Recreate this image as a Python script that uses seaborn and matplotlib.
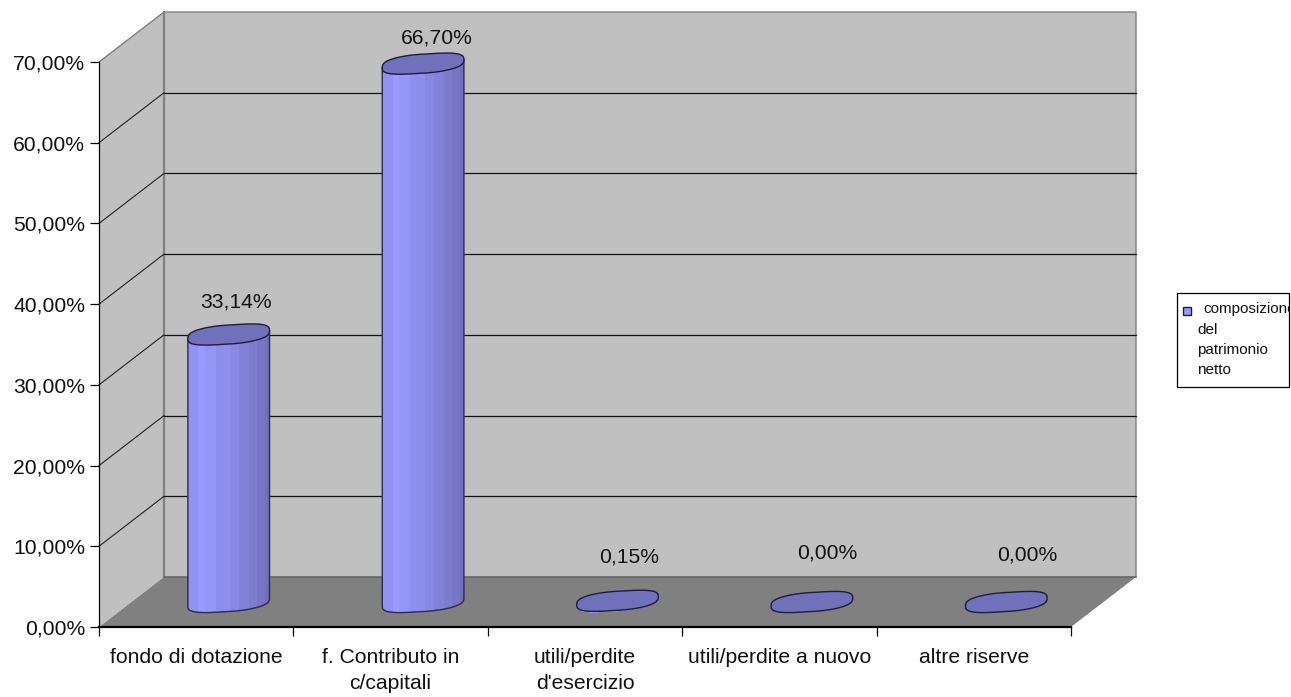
"""
plot.py
---------
Composizione del patrimonio netto, 3D-look cylinder chart.
Run: python3 plot.py
"""

import numpy as np
import pandas as pd
import matplotlib
matplotlib.use('Agg')
import matplotlib.pyplot as plt
from matplotlib.colors import ListedColormap
from matplotlib.patches import Polygon, Rectangle
from matplotlib.transforms import Affine2D
import seaborn as sns

categories = ["fondo di dotazione", "f. Contributo in\nc/capitali",
              "utili/perdite\nd'esercizio", "utili/perdite a nuovo",
              "altre riserve"]
values = [33.14, 66.70, 0.15, 0.00, 0.00]
y_ticks = [0, 10, 20, 30, 40, 50, 60, 70]
y_tick_labels = ["0,00%", "10,00%", "20,00%", "30,00%",
                 "40,00%", "50,00%", "60,00%", "70,00%"]
legend_lines = ["composizione", "del", "patrimonio", "netto"]

# Style
W, H = 1291, 697
FONT = 'Liberation Sans'
FS = 15.2
WALL = '#C0C0C0'
FLOOR = '#808080'
TOP_COLOR = '#7070BB'
BAR_COLOR = '#9999FF'
EDGE = '#2a2a55'
STRIP_COLORS = ['#9292F2', '#9999FF', '#9595F8', '#8E8EEE', '#8888E4',
                '#8282D9', '#7C7CCF', '#7676C5', '#7070BB']
STRIP_EDGES = [0, 0.13, 0.21, 0.34, 0.52, 0.63, 0.75, 0.85, 0.95, 1]
LABEL_OFFSETS = [(7, 33), (14, 26), (12, 44), (15, 49), (21, 47)]

sns.set_theme(style='white')
plt.rcParams['font.family'] = [FONT, 'DejaVu Sans']

fig = plt.figure(figsize=(W / 100, H / 100), dpi=100)
ax = fig.add_axes([99 / W, 1 - 627 / H, 972 / W, 565 / H])
ax.patch.set_visible(False)

df = pd.DataFrame({'category': categories, 'value': values})
sns.barplot(data=df, x='category', y='value', color=BAR_COLOR, saturation=1,
            width=0.42, linewidth=0, ax=ax, zorder=3)

# chart depth, in data units
DX = 65 / (972 / 5)
DY = 50 / (565 / 70)
x0, x1 = -0.5, 4.5
ax.set_xlim(x0, x1)
ax.set_ylim(0, 70)

# walls and floor
ax.fill([x0, x0 + DX, x0 + DX, x0], [0, DY, 70 + DY, 70], color=WALL,
        lw=0, clip_on=False, zorder=0)
ax.fill([x0 + DX, x1 + DX, x1 + DX, x0 + DX], [DY, DY, 70 + DY, 70 + DY],
        color=WALL, lw=0, clip_on=False, zorder=0)
ax.plot([x0, x0 + DX, x1 + DX, x1 + DX], [70, 70 + DY, 70 + DY, DY],
        color=FLOOR, lw=1.0, clip_on=False, zorder=1)
ax.plot([x0 + DX, x0 + DX], [DY, 70 + DY], color=FLOOR, lw=1.6,
        clip_on=False, zorder=1)
for t in y_ticks[1:-1]:
    ax.plot([x0, x0 + DX], [t, t + DY], color='#222222', lw=0.8,
            clip_on=False, zorder=1)
    ax.plot([x0 + DX, x1 + DX], [t + DY, t + DY], color='#111111', lw=0.9,
            clip_on=False, zorder=1)
ax.fill([x0, x1, x1 + DX, x0 + DX], [0, 0, DY, DY], color=FLOOR, lw=0,
        clip_on=False, zorder=2)
ax.plot([x0 + DX, x1 + DX], [DY, DY], color='#666666', lw=1.2, clip_on=False,
        zorder=2)

# cylinders are built around the bars seaborn laid out
offset = Affine2D().translate(DX / 2, DY / 2) + ax.transData
b_y, s_y = 9.5 / 8.07, 4 / 8.07
t_low = np.linspace(np.pi, 2 * np.pi, 60)
t_all = np.linspace(0, 2 * np.pi, 120)


def rim(t, cx, cy, a):
    c, s = np.cos(t), np.sin(t)
    xs = cx + a * np.sign(c) * np.abs(c) ** 0.8
    ys = cy + b_y * np.sign(s) * np.abs(s) ** 0.7 + s_y * c
    return xs, ys


strips = ListedColormap(STRIP_COLORS)
for p, v in zip(ax.patches[:len(values)], values):
    p.set_transform(offset)
    p.set_clip_on(False)
    w = p.get_width()
    cx = p.get_x() + w / 2
    a = w / 2
    # body: lower rim of the base, then up to the top rim
    bx, by = rim(t_low, cx, 0, a)
    body_xy = np.column_stack([np.r_[bx, cx + a, cx - a],
                               np.r_[by, v + s_y, v - s_y]])
    # flat bars only show their top disc
    body = Polygon(body_xy, closed=True, fc='none',
                   ec=EDGE if v >= 1 else 'none', lw=1.0,
                   transform=offset, clip_on=False, zorder=5)
    ax.add_patch(body)
    edges = cx - a + np.array(STRIP_EDGES) * w
    mesh = ax.pcolormesh(edges, [-3, v + 3],
                         np.arange(len(STRIP_COLORS)).reshape(1, -1),
                         cmap=strips, shading='flat', transform=offset,
                         antialiased=False, zorder=4)
    mesh.set_clip_path(body)
    mesh.set_clip_box(None)
    tx, ty = rim(t_all, cx, v, a)
    ax.add_patch(Polygon(np.column_stack([tx, ty]), closed=True, fc=TOP_COLOR,
                         ec='#1c1c3c', lw=1.0, transform=offset,
                         clip_on=False, zorder=6))

ax.set_xlim(x0, x1)
ax.set_ylim(0, 70)

# data labels
for i, v in enumerate(values):
    ax.annotate(f"{v:.2f}%".replace('.', ','), (i + DX / 2, v + DY / 2),
                xytext=LABEL_OFFSETS[i], textcoords='offset pixels',
                ha='center', va='center', fontsize=FS, color='#111111',
                annotation_clip=False, zorder=7)

# axes
sns.despine(ax=ax, top=True, right=True)
for side in ('left', 'bottom'):
    ax.spines[side].set_color('black')
    ax.spines[side].set_zorder(8)
ax.spines['left'].set_linewidth(0.9)
ax.spines['bottom'].set_linewidth(1.6)
ax.set_xlabel('')
ax.set_ylabel('')
ax.set_yticks(y_ticks, y_tick_labels, fontsize=FS, color='#111111')
ax.tick_params(axis='y', left=True, length=6.5, width=0.9, color='black', pad=3.5)
ax.set_xticks(np.arange(x0, x1 + 0.5))
ax.set_xticklabels([])
ax.set_xticks(np.arange(len(categories)), categories, minor=True,
              fontsize=FS, color='#111111', linespacing=1.45)
ax.tick_params(axis='x', which='major', bottom=True, length=6.5, width=0.9,
               color='black')
ax.tick_params(axis='x', which='minor', bottom=False, length=0, pad=15)
ax.grid(False)

# legend box, text runs into the right edge as in the source chart
box = Rectangle((1177 / W, 1 - 387 / H), 112 / W, 94 / H, fc='white',
                ec='black', lw=0.9, transform=fig.transFigure)
fig.add_artist(box)
fig.add_artist(Rectangle((1183 / W, 1 - 315 / H), 8 / W, 8 / H, fc=BAR_COLOR,
                         ec='#1c1c3c', lw=1.0, transform=fig.transFigure))
for line, lx, ly in zip(legend_lines, [1203, 1197, 1197, 1197],
                        [309, 330, 350, 370]):
    t = fig.text(lx / W, 1 - ly / H, line, fontsize=11, color='#111111',
                 ha='left', va='center')
    t.set_clip_path(box)

fig.savefig('out.png', dpi=100)
plt.close(fig)
